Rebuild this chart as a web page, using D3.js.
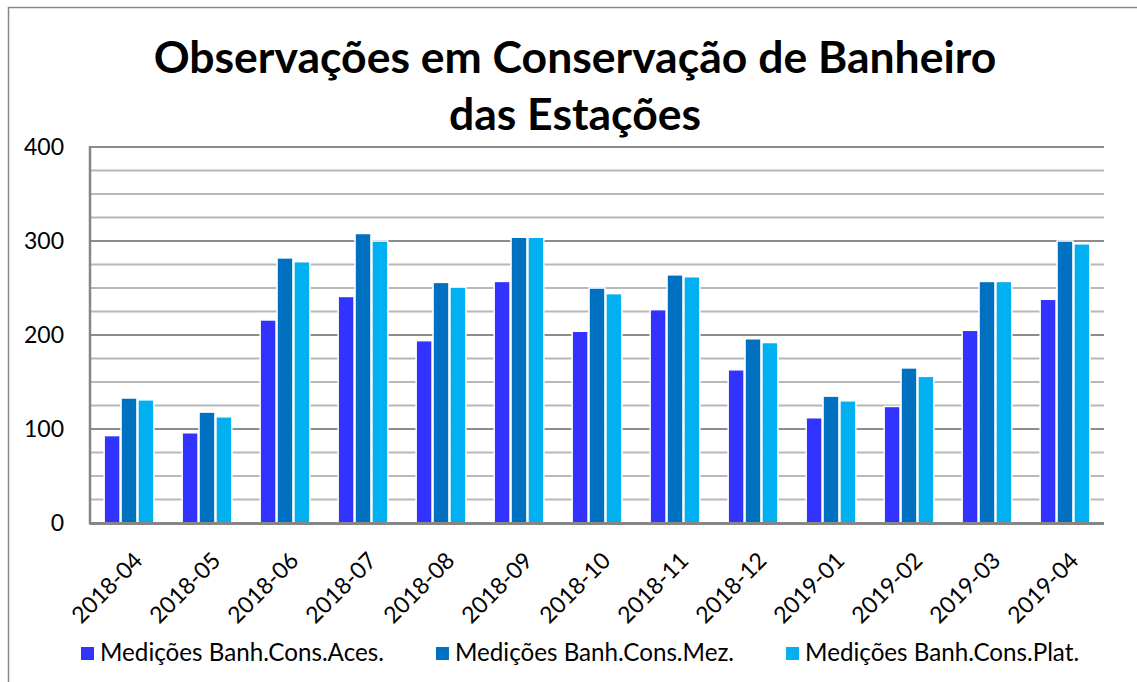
<!DOCTYPE html>
<html>
<head>
<meta charset="utf-8">
<script src="https://cdn.jsdelivr.net/npm/d3@7"></script>
<style>
  body { margin: 0; background: #fff; }
  svg { display: block; font-family: Lato, "Open Sans", sans-serif; }
</style>
</head>
<body>
<div id="chart"></div>
<script>
// chart data
const months = ['2018-04', '2018-05', '2018-06', '2018-07', '2018-08', '2018-09', '2018-10',
  '2018-11', '2018-12', '2019-01', '2019-02', '2019-03', '2019-04'];
const seriesNames = ['Medições Banh.Cons.Aces.', 'Medições Banh.Cons.Mez.', 'Medições Banh.Cons.Plat.'];
const aces = [93, 96, 216, 241, 194, 257, 204, 227, 163, 112, 124, 205, 238];
const mez = [133, 118, 282, 308, 256, 304, 250, 264, 196, 135, 165, 257, 300];
const plat = [131, 113, 278, 300, 251, 304, 244, 262, 192, 130, 156, 257, 297];
const yTicks = [0, 100, 200, 300, 400];
const colors = ['#3333ff', '#0070c0', '#00b0f0'];

const width = 1137;
const height = 682;
const margin = { top: 147, right: 33, bottom: 159, left: 90 };

const svg = d3.select('#chart').append('svg')
  .attr('width', width)
  .attr('height', height);

// outer chart border
svg.append('rect')
  .attr('x', 8.5).attr('y', 7.5)
  .attr('width', width).attr('height', height)
  .attr('fill', 'none')
  .attr('stroke', '#878787')
  .attr('stroke-width', 1.5);

// title
const title = svg.append('text')
  .attr('text-anchor', 'middle')
  .attr('font-weight', 700)
  .attr('font-size', 44.5)
  .attr('fill', '#000');
title.append('tspan').attr('x', 575).attr('y', 73).text('Observações em Conservação de Banheiro');
title.append('tspan').attr('x', 575).attr('y', 130).text('das Estações');

const x0 = d3.scaleBand()
  .domain(months)
  .range([margin.left, width - margin.right])
  .paddingInner(0.35)
  .paddingOuter(0.175);

const x1 = d3.scaleBand()
  .domain(seriesNames)
  .range([0, x0.bandwidth()]);

const y = d3.scaleLinear()
  .domain([0, 400])
  .range([height - margin.bottom, margin.top]);

// gridlines every 25, darker at the labelled ticks
const grid = svg.append('g');
grid.selectAll('line')
  .data(d3.range(25, 401, 25))
  .join('line')
    .attr('x1', margin.left)
    .attr('x2', width - margin.right)
    .attr('y1', (d) => y(d))
    .attr('y2', (d) => y(d))
    .attr('stroke', (d) => d % 100 === 0 ? '#8c8c8c' : '#b8b8b8')
    .attr('stroke-width', 2);

// bars
const rows = months.map((m, i) => ({ month: m, values: [aces[i], mez[i], plat[i]] }));

svg.append('g')
  .selectAll('g')
  .data(rows)
  .join('g')
    .attr('transform', (d) => `translate(${x0(d.month)},0)`)
  .selectAll('rect')
  .data((d) => d.values.map((v, j) => ({ name: seriesNames[j], value: v, j })))
  .join('rect')
    .attr('x', (d) => x1(d.name) + 0.5)
    .attr('width', x1.bandwidth() - 1)
    .attr('y', (d) => y(d.value))
    .attr('height', (d) => y(0) - y(d.value))
    .attr('fill', (d) => colors[d.j])
    .attr('stroke', '#fff')
    .attr('stroke-width', 1.5);

// axis lines
svg.append('line')
  .attr('x1', margin.left).attr('x2', margin.left)
  .attr('y1', y(400) - 1).attr('y2', y(0) + 1.5)
  .attr('stroke', '#868686').attr('stroke-width', 2.5);
svg.append('line')
  .attr('x1', margin.left).attr('x2', width - margin.right)
  .attr('y1', y(0) + 0.5).attr('y2', y(0) + 0.5)
  .attr('stroke', '#868686').attr('stroke-width', 3);

// y labels
svg.append('g')
  .selectAll('text')
  .data(yTicks)
  .join('text')
    .attr('x', 64)
    .attr('y', (d) => y(d))
    .attr('dy', '0.35em')
    .attr('text-anchor', 'end')
    .attr('font-size', 23)
    .attr('fill', '#000')
    .text((d) => d);

// x labels
svg.append('g')
  .selectAll('text')
  .data(months)
  .join('text')
    .attr('text-anchor', 'end')
    .attr('font-size', 23)
    .attr('fill', '#000')
    .attr('transform', (d) => `translate(${x0(d) + x0.bandwidth() / 2 + 15},${y(0) + 39}) rotate(-45)`)
    .text((d) => d);

// legend
const legend = svg.append('g').attr('transform', 'translate(81,653)');
let lx = 0;
seriesNames.forEach((name, i) => {
  const item = legend.append('g').attr('transform', `translate(${lx},0)`);
  item.append('rect')
    .attr('x', 0).attr('y', -6)
    .attr('width', 13).attr('height', 13)
    .attr('fill', colors[i]);
  const t = item.append('text')
    .attr('x', 19)
    .attr('y', 0)
    .attr('dy', '0.35em')
    .attr('font-size', 24.2)
    .attr('fill', '#000')
    .text(name);
  lx += 19 + t.node().getComputedTextLength() + 52;
});
</script>
</body>
</html>
